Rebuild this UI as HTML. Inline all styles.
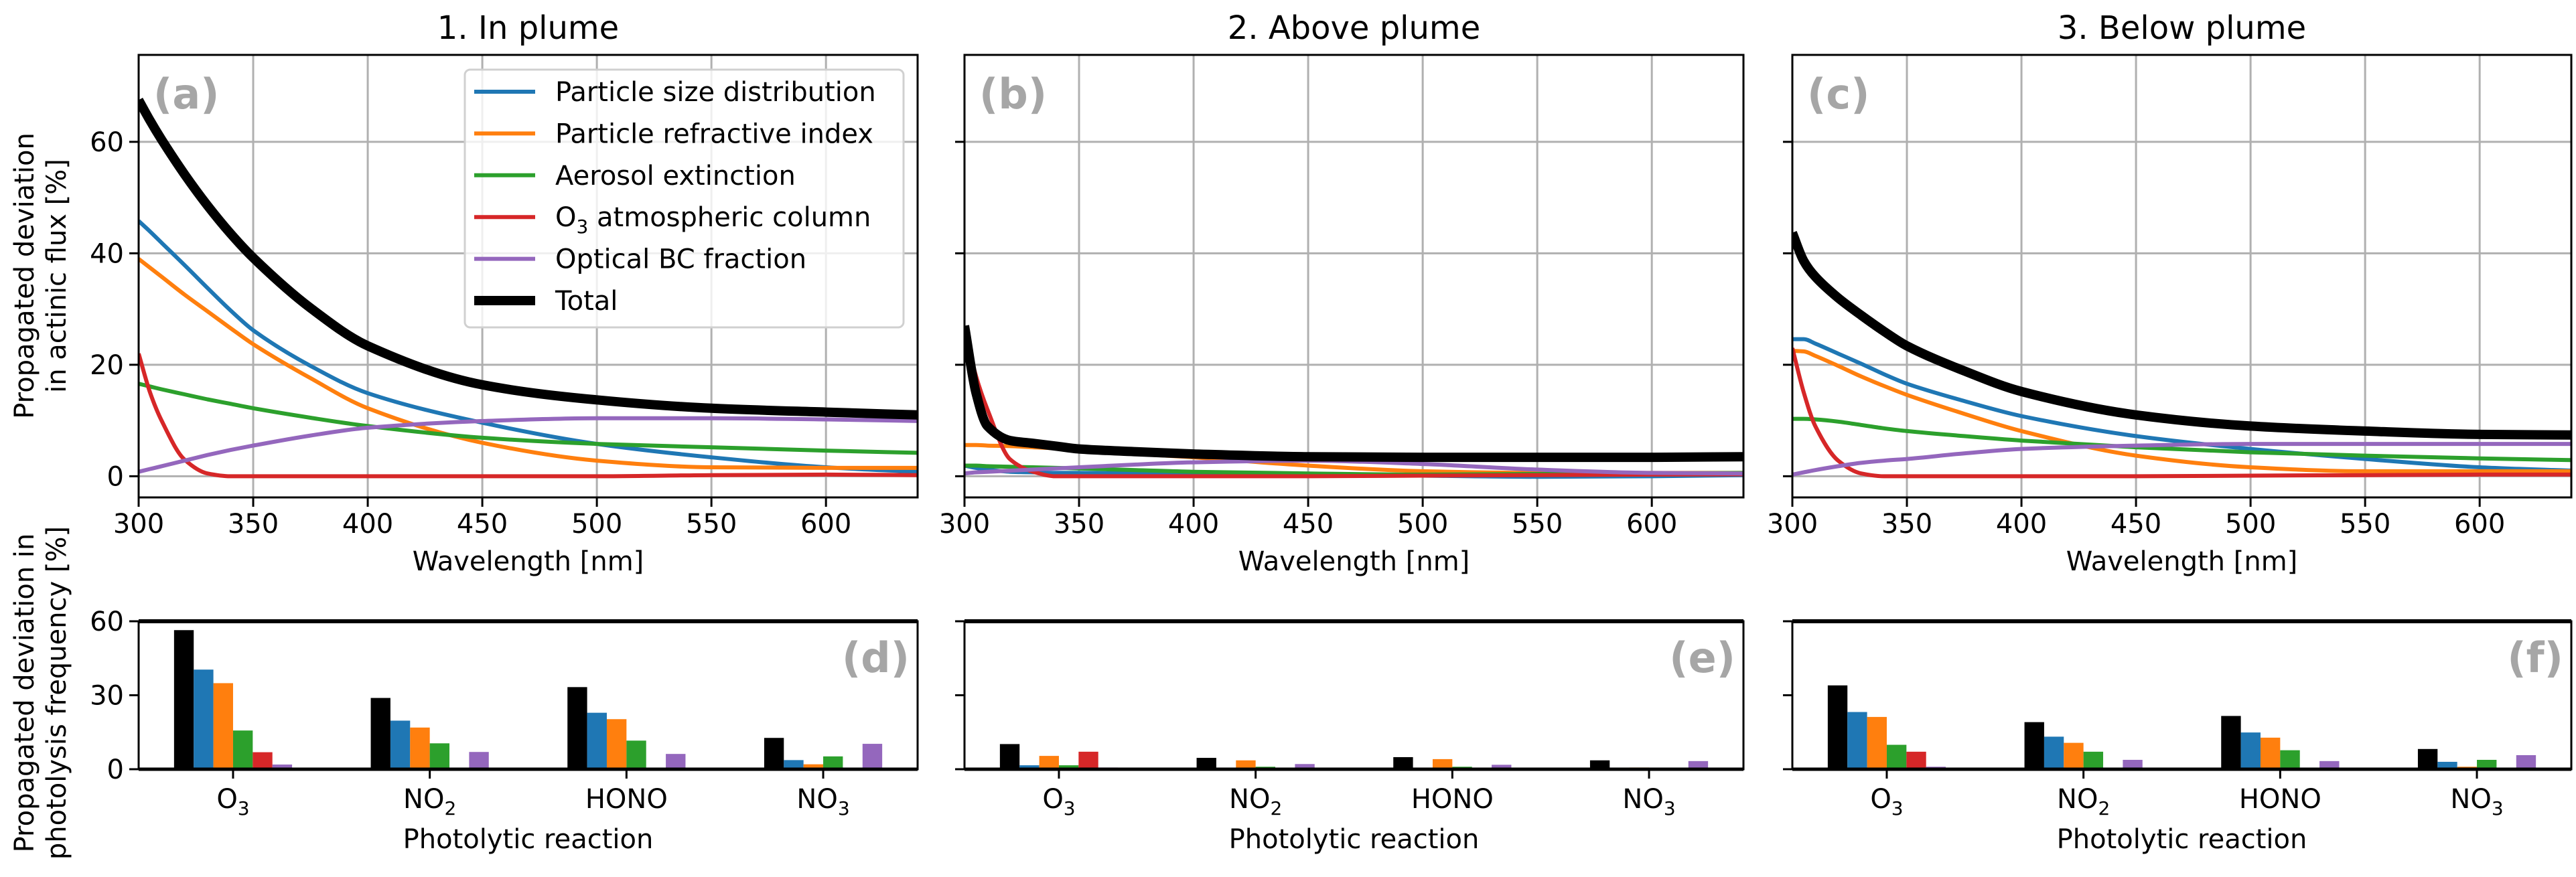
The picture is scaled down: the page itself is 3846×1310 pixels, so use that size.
<!DOCTYPE html>
<html><head><meta charset="utf-8">
<style>
body{margin:0;background:#fff;}
svg{display:block;font-family:"DejaVu Sans","Liberation Sans",sans-serif;}
</style></head>
<body>
<svg id="fig" width="3846" height="1310" viewBox="0 0 3846 1310" xmlns="http://www.w3.org/2000/svg"></svg>
<script>
// ---- data ----
const wl = [300,305,310,320,330,340,350,375,400,450,500,550,600,640];
const seriesNames = ["Particle size distribution","Particle refractive index","Aerosol extinction","O3 atmospheric column","Optical BC fraction","Total"];
const seriesColors = ["#1f77b4","#ff7f0e","#2ca02c","#d62728","#9467bd","#000000"];
// panel a
const aBlue   = [45.8,43.9,41.9,37.9,33.8,29.8,26.2,19.8,14.9,9.6,5.8,3.4,1.6,0.8];
const aOrange = [39.0,37.4,35.8,32.6,29.6,26.6,23.7,17.6,12.2,6.0,2.8,1.6,1.5,1.5];
const aGreen  = [16.6,16.1,15.6,14.7,13.8,13.0,12.2,10.5,9.0,6.9,5.8,5.2,4.6,4.2];
const aRed    = [22.0,15.0,10.0,3.0,0.5,0.0,0.0,0.0,0.0,0.0,0.0,0.2,0.3,0.2];
const aPurple = [0.8,1.3,1.8,2.8,3.8,4.7,5.5,7.3,8.7,9.9,10.4,10.4,10.2,9.9];
const aTotal  = [67.5,63.8,60.4,54.2,48.6,43.6,39.2,30.2,23.4,16.4,13.7,12.2,11.5,11.0];
// panel b
const bBlue   = [1.9,1.5,1.2,0.8,0.7,0.6,0.6,0.5,0.5,0.3,0.1,-0.1,0.0,0.2];
const bOrange = [5.6,5.6,5.5,5.4,5.2,5.0,4.6,4.0,3.4,1.9,0.9,0.6,0.6,0.6];
const bGreen  = [1.9,1.9,1.8,1.7,1.6,1.5,1.4,1.1,0.8,0.5,0.3,0.4,0.5,0.6];
const bRed    = [26.6,18.0,12.0,3.0,0.8,0.0,0.0,0.0,0.0,0.0,0.1,0.2,0.3,0.35];
const bPurple = [0.5,0.7,0.8,1.0,1.2,1.4,1.6,2.1,2.5,2.8,2.2,1.2,0.6,0.5];
const bTotal  = [27.0,15.0,9.0,6.4,5.9,5.4,4.9,4.4,4.0,3.5,3.4,3.4,3.4,3.5];
// panel c
const cBlue   = [24.6,24.6,23.8,22.0,20.2,18.3,16.6,13.5,10.8,7.2,4.9,3.1,1.6,1.0];
const cOrange = [22.5,22.4,21.6,19.8,17.9,16.2,14.6,11.2,8.1,3.7,1.6,0.9,0.9,0.9];
const cGreen  = [10.3,10.3,10.2,9.8,9.2,8.6,8.1,7.2,6.4,5.2,4.3,3.7,3.2,2.9];
const cRed    = [23.0,15.0,9.0,2.8,0.5,0.0,0.0,0.0,0.0,0.0,0.1,0.2,0.3,0.3];
const cPurple = [0.3,0.7,1.1,1.8,2.4,2.8,3.1,4.1,4.9,5.5,5.8,5.8,5.8,5.8];
const cTotal  = [43.7,38.6,35.8,32.0,28.9,26.0,23.4,18.9,15.2,11.0,9.0,8.1,7.5,7.4];
const panelSeries = [
  [aBlue,aOrange,aGreen,aRed,aPurple,aTotal],
  [bBlue,bOrange,bGreen,bRed,bPurple,bTotal],
  [cBlue,cOrange,cGreen,cRed,cPurple,cTotal]
];
const panelTitles = ["1. In plume","2. Above plume","3. Below plume"];
const topLetters = ["(a)","(b)","(c)"];
const botLetters = ["(d)","(e)","(f)"];
const xTicks = [300,350,400,450,500,550,600];
const yTicksTop = [0,20,40,60];
const yTicksBot = [0,30,60];
const categories = ["O3","NO2","HONO","NO3"];
// bar values: order Total, size, refractive, extinction, O3 column, BC
const dBars = [[56.4,40.4,34.9,15.7,6.9,1.9],[28.9,19.7,16.9,10.5,0,7.0],[33.3,22.9,20.3,11.6,0,6.2],[12.7,3.7,2.0,5.2,0,10.3]];
const eBars = [[10.2,1.6,5.4,1.6,7.1,0.7],[4.6,0.5,3.6,1.0,0,2.1],[4.9,0.5,4.1,1.0,0,1.8],[3.6,0,0.7,0,0,3.3]];
const fBars = [[34.0,23.2,21.2,9.9,7.1,1.0],[19.1,13.2,10.7,7.1,0,3.8],[21.6,14.9,12.8,7.7,0,3.3],[8.2,3.0,1.0,3.8,0,5.7]];
const panelBars = [dBars,eBars,fBars];
const barColors = ["#000000","#1f77b4","#ff7f0e","#2ca02c","#d62728","#9467bd"];

// ---- layout ----
const NS="http://www.w3.org/2000/svg";
const svg=document.getElementById("fig");
const L=[207,1440,2676], W=1163;
const topT=82, topB=743, yMinT=-3.8, yMaxT=75.6;
const botT=928, botB=1149, yMinB=0, yMaxB=60;
const xMin=300, xMax=640, cMin=-0.48, cMax=3.48;
function mk(tag,attrs,parent){const e=document.createElementNS(NS,tag);for(const k in attrs)e.setAttribute(k,attrs[k]);(parent||svg).appendChild(e);return e;}
function sx(p,v){return L[p]+(v-xMin)/(xMax-xMin)*W;}
function syT(v){return topB-(v-yMinT)/(yMaxT-yMinT)*(topB-topT);}
function cx(p,v){return L[p]+(v-cMin)/(cMax-cMin)*W;}
function syB(v){return botB-(v-yMinB)/(yMaxB-yMinB)*(botB-botT);}
function chemLabel(t,name,x,y,size){
  const m=name.match(/^([A-Z]+?)(\d)$/);
  const e=mk("text",{x:x,y:y,"text-anchor":"middle","font-size":size},t);
  if(m && name!=="HONO"){e.appendChild(document.createTextNode(m[1]));const s=mk("tspan",{"font-size":size*0.7,dy:size*0.25},e);s.textContent=m[2];}
  else e.textContent=name;
  return e;
}
function monoPath(xs,ys){
  const n=xs.length,d=[],m=[];
  for(let i=0;i<n-1;i++)d.push((ys[i+1]-ys[i])/(xs[i+1]-xs[i]));
  m[0]=d[0];m[n-1]=d[n-2];
  for(let i=1;i<n-1;i++){ if(d[i-1]*d[i]<=0)m[i]=0; else m[i]=2/(1/d[i-1]+1/d[i]); }
  let s="M"+xs[0].toFixed(1)+","+ys[0].toFixed(1);
  for(let i=0;i<n-1;i++){const h=xs[i+1]-xs[i];
    s+=" C"+(xs[i]+h/3).toFixed(1)+","+(ys[i]+m[i]*h/3).toFixed(1)+" "+(xs[i+1]-h/3).toFixed(1)+","+(ys[i+1]-m[i+1]*h/3).toFixed(1)+" "+xs[i+1].toFixed(1)+","+ys[i+1].toFixed(1);}
  return s;
}

for(let p=0;p<3;p++){
  const g=mk("g",{});
  
  
  const t=mk("text",{x:L[p]+W/2,y:58,"text-anchor":"middle","font-size":48},g);
  t.textContent=panelTitles[p];
  
  
  mk("clipPath",{id:"clip"+p},g).appendChild(document.createElementNS(NS,"rect"));
  const cr=document.querySelector("#clip"+p+" rect");
  cr.setAttribute("x",L[p]);cr.setAttribute("y",topT);cr.setAttribute("width",W);cr.setAttribute("height",topB-topT);
  xTicks.forEach(v=>{
    mk("line",{x1:sx(p,v),x2:sx(p,v),y1:topT,y2:topB,stroke:"#b0b0b0","stroke-width":3},g);
    mk("line",{x1:sx(p,v),x2:sx(p,v),y1:topB,y2:topB+14,stroke:"#000","stroke-width":3},g);
    const tl=mk("text",{x:sx(p,v),y:topB+53,"text-anchor":"middle","font-size":40},g);tl.textContent=v;
    
    
  });
  yTicksTop.forEach(v=>{
    mk("line",{x1:L[p],x2:L[p]+W,y1:syT(v),y2:syT(v),stroke:"#b0b0b0","stroke-width":3},g);
    mk("line",{x1:L[p]-14,x2:L[p],y1:syT(v),y2:syT(v),stroke:"#000","stroke-width":3},g);
    if(p===0){const tl=mk("text",{x:L[p]-22,y:syT(v)+14,"text-anchor":"end","font-size":40},g);tl.textContent=v;
      
      }
  });
  const xl=mk("text",{x:L[p]+W/2,y:838+14,"text-anchor":"middle","font-size":40},g);xl.textContent="Wavelength [nm]";
  
  
  const ser=panelSeries[p];
  const cg=mk("g",{"clip-path":"url(#clip"+p+")"},g);
  ser.forEach((arr,i)=>{
    const xs=wl.map(v=>sx(p,v)), ys=arr.map(v=>syT(v));
    const path=mk("path",{d:monoPath(xs,ys),fill:"none",stroke:seriesColors[i],"stroke-width":i===5?14:6,"stroke-linejoin":"round"},cg);
    
    
  });
  mk("rect",{x:L[p],y:topT,width:W,height:topB-topT,fill:"none",stroke:"#000","stroke-width":3},g);
  const lt=mk("text",{x:L[p]+22,y:162,"font-size":62,"font-weight":"bold",fill:"#a6a6a6"},g);lt.textContent=topLetters[p];
  
  

  const bg=mk("g",{});
  
  
  mk("line",{x1:L[p],x2:L[p]+W,y1:syB(0),y2:syB(0),stroke:"#b0b0b0","stroke-width":3},bg);
  yTicksBot.forEach(v=>{
    mk("line",{x1:L[p]-14,x2:L[p],y1:syB(v),y2:syB(v),stroke:"#000","stroke-width":3},bg);
    if(p===0){const tl=mk("text",{x:L[p]-22,y:syB(v)+14,"text-anchor":"end","font-size":40},bg);tl.textContent=v;
      
      }
  });
  panelBars[p].forEach((vals,ci)=>{
    vals.forEach((v,bi)=>{
      const off=(bi-2.5)*0.1;
      const x0=cx(p,ci+off-0.05), x1=cx(p,ci+off+0.05);
      const r=mk("rect",{x:x0,y:syB(Math.max(v,0)),width:x1-x0,height:Math.abs(syB(0)-syB(v)),fill:barColors[bi]},bg);
      
      
    });
    mk("line",{x1:cx(p,ci),x2:cx(p,ci),y1:botB,y2:botB+14,stroke:"#000","stroke-width":3},bg);
    const cl=chemLabel(bg,categories[ci],cx(p,ci),botB+58,40);
    
    
  });
  mk("rect",{x:L[p],y:botT,width:W,height:botB-botT,fill:"none",stroke:"#000","stroke-width":3},bg);
  mk("line",{x1:L[p],x2:L[p]+W,y1:botT,y2:botT,stroke:"#000","stroke-width":6},bg);
  mk("line",{x1:L[p],x2:L[p]+W,y1:botB,y2:botB,stroke:"#000","stroke-width":5},bg);
  const bl=mk("text",{x:L[p]+W-12,y:1004,"text-anchor":"end","font-size":62,"font-weight":"bold",fill:"#a6a6a6"},bg);bl.textContent=botLetters[p];
  
  
  const xb=mk("text",{x:L[p]+W/2,y:1267,"text-anchor":"middle","font-size":40},bg);xb.textContent="Photolytic reaction";
  
  
}
function ytitle(lines,cyv,name){
  const t=mk("text",{transform:"translate(0,"+cyv+") rotate(-90)","text-anchor":"middle","font-size":40});
  
  
  lines.forEach((s,i)=>{const sp=mk("tspan",{x:0,y:50+i*48},t);sp.textContent=s;});
}
ytitle(["Propagated deviation","in actinic flux [%]"],412,"y-axis-title-flux");
ytitle(["Propagated deviation in","photolysis frequency [%]"],1035,"y-axis-title-photolysis");
const lg=mk("g",{});


mk("rect",{x:694,y:104,width:655,height:385,rx:8,fill:"#fff","fill-opacity":0.8,stroke:"#d0d0d0","stroke-width":3},lg);
seriesNames.forEach((n,i)=>{
  const y=137+i*62.4;
  mk("line",{x1:708,x2:799,y1:y,y2:y,stroke:seriesColors[i],"stroke-width":i===5?14:6},lg);
  const t=mk("text",{x:829,y:y+14,"font-size":40},lg);
  if(i===3){t.appendChild(document.createTextNode("O"));const s=mk("tspan",{"font-size":28,dy:10},t);s.textContent="3";const s2=mk("tspan",{dy:-10},t);s2.textContent=" atmospheric column";}
  else t.textContent=n;
  
  
});
</script>
</body></html>
